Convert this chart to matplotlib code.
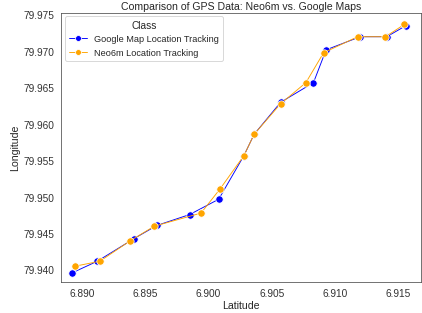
import matplotlib
matplotlib.use("Agg")
import matplotlib.pyplot as plt
import seaborn as sns

# Google Map Location Tracking
google_lat = [6.8892, 6.8912, 6.8941, 6.8959, 6.8985, 6.9008, 6.9028, 6.9036,
              6.9057, 6.9083, 6.9093, 6.9120, 6.9141, 6.9156]
google_lon = [79.9396, 79.9412, 79.9443, 79.9461, 79.9476, 79.9497, 79.9557, 79.9586,
              79.9630, 79.9657, 79.9702, 79.9720, 79.9720, 79.9735]
# Neo6m Location Tracking
neo_lat = [6.8894, 6.8914, 6.8938, 6.8957, 6.8994, 6.9009, 6.9028, 6.9036,
           6.9057, 6.9077, 6.9091, 6.9118, 6.9140, 6.9155]
neo_lon = [79.9405, 79.9412, 79.9440, 79.9460, 79.9478, 79.9511, 79.9557, 79.9586,
           79.9628, 79.9657, 79.9698, 79.9720, 79.9720, 79.9737]

sns.set_style("white")
plt.rcParams['font.family'] = ['Liberation Sans', 'DejaVu Sans']

fig = plt.figure(figsize=(6.4, 4.75), dpi=66)
ax = fig.add_axes([0.145, 0.099, 0.852, 0.859])

ax.plot(google_lat, google_lon, color="blue", marker="o", markersize=8,
        markeredgecolor="white", markeredgewidth=0.8, linewidth=1,
        label="Google Map Location Tracking")
ax.plot(neo_lat, neo_lon, color="orange", marker="o", markersize=8,
        markeredgecolor="white", markeredgewidth=0.8, linewidth=1,
        label="Neo6m Location Tracking")

ax.set_xlim(6.88834, 6.91682)
ax.set_ylim(79.93835, 79.9753)
ax.set_xticks([6.890, 6.895, 6.900, 6.905, 6.910, 6.915])
ax.set_yticks([79.940, 79.945, 79.950, 79.955, 79.960, 79.965, 79.970, 79.975])
ax.set_xticklabels(["6.890", "6.895", "6.900", "6.905", "6.910", "6.915"])
ax.set_yticklabels(["79.940", "79.945", "79.950", "79.955", "79.960", "79.965", "79.970", "79.975"])
ax.tick_params(labelsize=11, colors="#333333")
for s in ax.spines.values():
    s.set_color("#444444")

ax.set_title("Comparison of GPS Data: Neo6m vs. Google Maps", fontsize=11.5, pad=4)
ax.set_xlabel("Latitude", fontsize=11.5, labelpad=2)
ax.set_ylabel("Longitude", fontsize=11.5)
leg = ax.legend(title="Class", loc="upper left", fontsize=10, title_fontsize=11,
                markerscale=0.8, borderaxespad=0.4)

fig.savefig("out.png", dpi=66)
